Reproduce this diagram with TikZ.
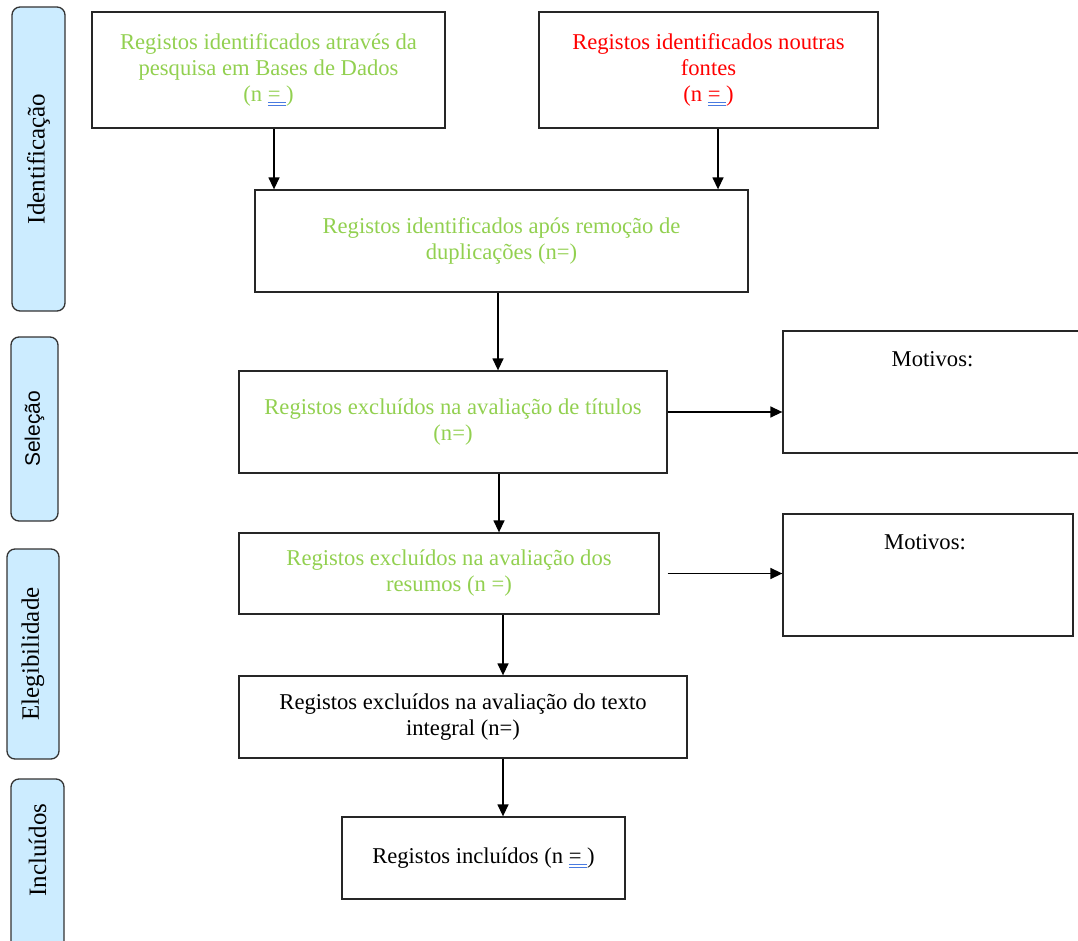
\documentclass[tikz,border=0pt]{standalone}
\usepackage{fontspec}
\setmainfont{Liberation Serif}
\setsansfont{Liberation Sans}
\usetikzlibrary{arrows.meta}
\definecolor{wgreen}{HTML}{92D050}
\definecolor{wred}{HTML}{FF0000}
\definecolor{phasefill}{HTML}{CCECFF}
\definecolor{gram}{HTML}{4A7BE0}
\newcommand{\gramu}[1]{\setbox0\hbox{#1}\rlap{\color{gram}\rule[-1.8pt]{\wd0}{1.2pt}}\rlap{\color{gram}\rule[-5pt]{\wd0}{1.2pt}}\box0}
\tikzset{phase/.style={draw=black!80,line width=1.3pt,rounded corners=8pt,fill=phasefill,font=\fontsize{25}{28}\selectfont},rec/.style={draw=black!85,line width=1.3pt,align=center,inner sep=0pt,font=\fontsize{22.6}{26}\selectfont},edge/.style={-{Triangle[length=12pt,width=11pt]},line width=1.4pt}}

\begin{document}
\begin{tikzpicture}[x=1pt,y=-1pt]
\useasboundingbox (0,0) rectangle (1078,941);
\node[phase,rotate=90,minimum width=304pt,minimum height=53pt] (ident) at (38.5,159) {Identificação};
\node[phase,rotate=90,minimum width=184pt,minimum height=47pt,font=\sffamily\fontsize{21}{24}\selectfont] (selec) at (34.5,429) {Seleção};
\node[phase,rotate=90,minimum width=210pt,minimum height=52pt] (eleg) at (33,654) {Elegibilidade};
\node[phase,rotate=90,minimum width=190pt,minimum height=53pt] (incl) at (37.5,874) {};
\node[rotate=90,font=\fontsize{25}{28}\selectfont] (incllabel) at (37.5,850) {Incluídos};
\node[rec,text=wgreen,minimum width=353pt,minimum height=116pt] (db) at (268.5,70) {Registos identificados através da\\pesquisa em Bases de Dados\\(n \gramu{=~})};
\node[rec,text=wred,minimum width=339pt,minimum height=116pt] (other) at (708.5,70) {Registos identificados noutras\\fontes\\(n \gramu{=~})};
\node[rec,text=wgreen,minimum width=493pt,minimum height=102pt] (dedup) at (501.5,241) {Registos identificados após remoção de\\duplicações (n=)};
\node[rec,text=wgreen,minimum width=428pt,minimum height=102pt] (titles) at (453,422) {Registos excluídos na avaliação de títulos\\(n=)};
\node[rec,text=wgreen,minimum width=420pt,minimum height=81pt] (abstr) at (449,573.5) {Registos excluídos na avaliação dos\\resumos (n =)};
\node[rec,minimum width=448pt,minimum height=82pt] (fulltext) at (463,717) {Registos excluídos na avaliação do texto\\integral (n=)};
\node[rec,minimum width=283pt,minimum height=82pt] (included) at (483.5,858) {Registos incluídos (n \gramu{=~})};
\node[rec,minimum width=299pt,minimum height=122pt,label={[anchor=north,yshift=-18pt,font=\fontsize{22.6}{26}\selectfont]north:Motivos:}] (why1) at (932.5,392) {};
\node[rec,minimum width=290pt,minimum height=122pt,label={[anchor=north,yshift=-18pt,xshift=-3pt,font=\fontsize{22.6}{26}\selectfont]north:Motivos:}] (why2) at (928,575) {};
% setas
\draw[edge] ([xshift=5.5pt]db.south) -- ([xshift=5.5pt]db.south |- dedup.north);
\draw[edge] ([xshift=9.5pt]other.south) -- ([xshift=9.5pt]other.south |- dedup.north);
\draw[edge] ([xshift=-3.5pt]dedup.south) -- ([xshift=-3.5pt]dedup.south |- titles.north);
\draw[edge] ([xshift=46pt]titles.south) -- ([xshift=46pt]titles.south |- abstr.north);
\draw[edge] ([xshift=54pt]abstr.south) -- ([xshift=54pt]abstr.south |- fulltext.north);
\draw[edge] ([xshift=40pt]fulltext.south) -- ([xshift=40pt]fulltext.south |- included.north);
\draw[edge] ([yshift=10pt]titles.east) -- ([yshift=10pt]titles.east -| why1.west);
\draw[edge] ([xshift=8pt]abstr.east) -- (abstr.east -| why2.west);
\end{tikzpicture}
\end{document}
